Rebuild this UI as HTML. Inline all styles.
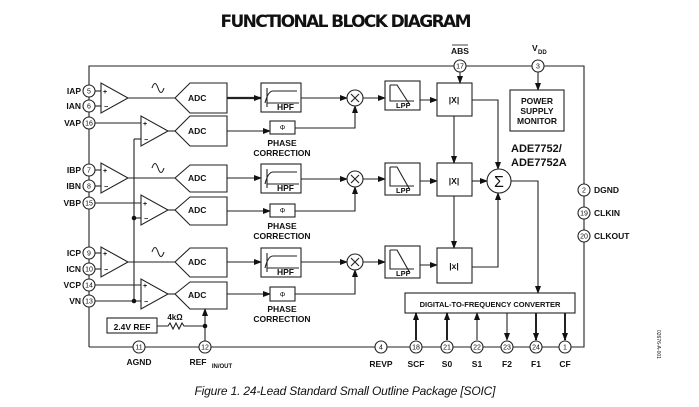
<!DOCTYPE html>
<html><head><meta charset="utf-8"><style>
html,body{margin:0;padding:0;background:#fff;}
svg{display:block}
text{font-family:"Liberation Sans",sans-serif;font-weight:bold;font-size:8.5px;fill:#111}
.n{font-size:7px;font-weight:normal}
.pm{font-size:7px;font-weight:bold}
</style></head><body>
<svg width="699" height="407" viewBox="0 0 699 407" xmlns="http://www.w3.org/2000/svg">
<defs><marker id="a" markerWidth="8" markerHeight="6" refX="7" refY="3" orient="auto" markerUnits="userSpaceOnUse"><path d="M0,0 L8,3 L0,6z" fill="#111"/></marker></defs>
<text x="346" y="27" text-anchor="middle" style="font-size:17px;font-family:'DejaVu Sans','Liberation Sans',sans-serif" textLength="251">FUNCTIONAL BLOCK DIAGRAM</text>
<text x="345" y="395" text-anchor="middle" style="font-size:12px;font-weight:normal;font-style:italic" textLength="301">Figure 1. 24-Lead Standard Small Outline Package [SOIC]</text>
<g stroke="#222" stroke-width="1.1" fill="none">
<path d="M89,347 V66 H584 V347 H89"/>
<path d="M134,139 V301"/>
</g>
<g stroke="#222" stroke-width="1.1" fill="#fff">
<line x1="95" y1="91" x2="101" y2="91"/><line x1="95" y1="106" x2="101" y2="106"/>
<line x1="95" y1="123" x2="141" y2="123"/><line x1="134" y1="139" x2="141" y2="139"/>
<polygon points="101,83 101,113 128,98"/><line x1="128" y1="98" x2="175" y2="98"/>
<polygon points="141,116 141,146 168,131"/><line x1="168" y1="131" x2="175" y2="131"/>
<polygon points="175,98 190,83 227,83 227,113 190,113"/>
<polygon points="175,131 190,116 227,116 227,146 190,146"/>
<line x1="227" y1="98" x2="261" y2="98" stroke-width="2.2" marker-end="url(#a)"/>
<rect x="261" y="83" width="40" height="29"/>
<line x1="227" y1="131" x2="270" y2="131" marker-end="url(#a)"/>
<rect x="270" y="121" width="25" height="13"/>
<line x1="301" y1="98" x2="347" y2="98" marker-end="url(#a)"/>
<path d="M295,128 H355 V106" fill="none" marker-end="url(#a)"/>
<circle cx="355" cy="98" r="8"/>
<line x1="363" y1="98" x2="385" y2="98" marker-end="url(#a)"/>
<rect x="385" y="81" width="35" height="29"/>
<line x1="420" y1="100" x2="437" y2="100" marker-end="url(#a)"/>
<rect x="437" y="83" width="35" height="33"/>
<line x1="95" y1="170" x2="101" y2="170"/><line x1="95" y1="186" x2="101" y2="186"/>
<line x1="95" y1="203" x2="141" y2="203"/><line x1="134" y1="218" x2="141" y2="218"/>
<polygon points="101,163 101,193 128,178"/><line x1="128" y1="178" x2="175" y2="178"/>
<polygon points="141,195 141,225 168,210"/><line x1="168" y1="210" x2="175" y2="210"/>
<polygon points="175,178 190,165 227,165 227,192 190,192"/>
<polygon points="175,210 190,197 227,197 227,225 190,225"/>
<line x1="227" y1="178" x2="261" y2="178" marker-end="url(#a)"/>
<rect x="261" y="164" width="40" height="29"/>
<line x1="227" y1="211" x2="270" y2="211" marker-end="url(#a)"/>
<rect x="270" y="204" width="25" height="13"/>
<line x1="301" y1="179" x2="347" y2="179" marker-end="url(#a)"/>
<path d="M295,211 H355 V187" fill="none" marker-end="url(#a)"/>
<circle cx="355" cy="179" r="8"/>
<line x1="363" y1="179" x2="385" y2="179" marker-end="url(#a)"/>
<rect x="385" y="163" width="35" height="32"/>
<line x1="420" y1="181" x2="437" y2="181" marker-end="url(#a)"/>
<rect x="437" y="163" width="35" height="33"/>
<line x1="95" y1="253" x2="101" y2="253"/><line x1="95" y1="269" x2="101" y2="269"/>
<line x1="95" y1="285" x2="141" y2="285"/><line x1="95" y1="301" x2="141" y2="301"/>
<polygon points="101,247 101,277 128,262"/><line x1="128" y1="262" x2="175" y2="262"/>
<polygon points="141,279 141,309 168,294"/><line x1="168" y1="294" x2="175" y2="294"/>
<polygon points="175,262 190,248 227,248 227,277 190,277"/>
<polygon points="175,294 190,282 227,282 227,309 190,309"/>
<line x1="227" y1="262" x2="261" y2="262" marker-end="url(#a)"/>
<rect x="261" y="248" width="40" height="29"/>
<line x1="227" y1="294" x2="270" y2="294" marker-end="url(#a)"/>
<rect x="270" y="287" width="25" height="14"/>
<line x1="301" y1="262" x2="347" y2="262" marker-end="url(#a)"/>
<path d="M295,294 H355 V270" fill="none" marker-end="url(#a)"/>
<circle cx="355" cy="262" r="8"/>
<line x1="363" y1="262" x2="385" y2="262" marker-end="url(#a)"/>
<rect x="385" y="246" width="35" height="32"/>
<line x1="420" y1="265" x2="437" y2="265" marker-end="url(#a)"/>
<rect x="437" y="248" width="35" height="35"/>
<line x1="454" y1="116" x2="454" y2="163" marker-end="url(#a)"/>
<line x1="454" y1="196" x2="454" y2="248" marker-end="url(#a)"/>
<path d="M472,100 H498 V169" fill="none" marker-end="url(#a)"/>
<path d="M472,267 H498 V193" fill="none" marker-end="url(#a)"/>
<line x1="472" y1="181" x2="487" y2="181" marker-end="url(#a)"/>
<circle cx="499" cy="181" r="12"/>
<path d="M511,181 H538 V293" fill="none" marker-end="url(#a)"/>
<line x1="460" y1="72" x2="460" y2="83" marker-end="url(#a)"/>
<line x1="538" y1="72" x2="538" y2="90" marker-end="url(#a)"/>
<rect x="510" y="90" width="54" height="41"/>
<rect x="405" y="293" width="170" height="20"/>
<line x1="416" y1="340" x2="416" y2="313" stroke-width="2" marker-end="url(#a)"/>
<line x1="447" y1="340" x2="447" y2="313" stroke-width="2" marker-end="url(#a)"/>
<line x1="477" y1="340" x2="477" y2="313" marker-end="url(#a)"/>
<line x1="507" y1="313" x2="507" y2="340" marker-end="url(#a)"/>
<line x1="536" y1="313" x2="536" y2="340" stroke-width="2" marker-end="url(#a)"/>
<line x1="565" y1="313" x2="565" y2="340" stroke-width="2" marker-end="url(#a)"/>
<rect x="107" y="318" width="50" height="15"/>
<path d="M157,326 H168 l2,-3 l3,6 l3,-6 l3,6 l3,-6 l2,3 H205" fill="none"/>
<line x1="205" y1="341" x2="205" y2="309" marker-end="url(#a)"/>
</g>
<g fill="#111"><circle cx="205" cy="326" r="2.3"/><circle cx="134" cy="218" r="2.3"/><circle cx="134" cy="301" r="2.3"/></g>
<g stroke="#222" stroke-width="1.1" fill="none">
<path d="M152,88 q3,-9 6,0 t6,0"/><path d="M152,168 q3,-9 6,0 t6,0"/><path d="M152,252 q3,-9 6,0 t6,0"/>
<path d="M267,107 V88 M265,103 q3,-12 8,-12 H297 M267,103 H299"/>
<path d="M267,188 V169 M265,184 q3,-12 8,-12 H297 M267,184 H299"/>
<path d="M267,272 V253 M265,268 q3,-12 8,-12 H297 M267,268 H299"/>
<path d="M390,85 V101 H414 M390,85 H397 L410,105"/>
<path d="M390,167 V186 H414 M390,167 H397 L410,190"/>
<path d="M390,250 V269 H414 M390,250 H397 L410,273"/>
<path d="M351,94 l8,8 M359,94 l-8,8 M351,175 l8,8 M359,175 l-8,8 M351,258 l8,8 M359,258 l-8,8"/>
</g>
<g class="pm">
<text class="pm" x="103" y="94">+</text><text class="pm" x="104" y="109">−</text>
<text class="pm" x="143" y="126">+</text><text class="pm" x="144" y="142">−</text>
<text class="pm" x="103" y="173">+</text><text class="pm" x="104" y="189">−</text>
<text class="pm" x="143" y="206">+</text><text class="pm" x="144" y="221">−</text>
<text class="pm" x="103" y="256">+</text><text class="pm" x="104" y="272">−</text>
<text class="pm" x="143" y="288">+</text><text class="pm" x="144" y="304">−</text>
</g>
<g>
<text x="188" y="101">ADC</text><text x="188" y="134">ADC</text>
<text x="188" y="181">ADC</text><text x="188" y="213">ADC</text>
<text x="188" y="265">ADC</text><text x="188" y="298">ADC</text>
<text x="277" y="110">HPF</text><text x="277" y="191">HPF</text><text x="277" y="275">HPF</text>
<text x="396" y="108" style="font-size:7.5px">LPF</text><text x="396" y="193" style="font-size:7.5px">LPF</text><text x="396" y="276" style="font-size:7.5px">LPF</text>
<text x="454" y="103" text-anchor="middle">|X|</text><text x="454" y="184" text-anchor="middle">|X|</text><text x="454" y="269" text-anchor="middle">|x|</text>
<text x="282.5" y="130" text-anchor="middle" class="n">Φ</text><text x="282.5" y="213" text-anchor="middle" class="n">Φ</text><text x="282.5" y="297" text-anchor="middle" class="n">Φ</text>
<text x="282" y="146" text-anchor="middle">PHASE</text><text x="282" y="156" text-anchor="middle">CORRECTION</text>
<text x="282" y="229" text-anchor="middle">PHASE</text><text x="282" y="239" text-anchor="middle">CORRECTION</text>
<text x="282" y="312" text-anchor="middle">PHASE</text><text x="282" y="322" text-anchor="middle">CORRECTION</text>
<text x="499" y="187" text-anchor="middle" style="font-size:16px;font-weight:normal">Σ</text>
<text x="537" y="104" text-anchor="middle">POWER</text><text x="537" y="114" text-anchor="middle">SUPPLY</text><text x="537" y="124" text-anchor="middle">MONITOR</text>
<text x="511" y="152" style="font-size:11px">ADE7752/</text><text x="511" y="166" style="font-size:11px">ADE7752A</text>
<text x="490" y="307" text-anchor="middle" style="font-size:7.5px">DIGITAL-TO-FREQUENCY CONVERTER</text>
<text x="132" y="330" text-anchor="middle">2.4V REF</text>
<text x="175" y="320" text-anchor="middle" style="font-size:8px">4kΩ</text>
<text x="460" y="54" text-anchor="middle">ABS</text><line x1="452" y1="45" x2="468" y2="45" stroke="#111" stroke-width="0.8"/>
<text x="532" y="51">V</text><text x="538" y="54" style="font-size:6px">DD</text>
<g text-anchor="end">
<text x="81" y="94">IAP</text><text x="81" y="109">IAN</text><text x="81" y="126">VAP</text>
<text x="81" y="173">IBP</text><text x="81" y="189">IBN</text><text x="81" y="206">VBP</text>
<text x="81" y="256">ICP</text><text x="81" y="272">ICN</text><text x="81" y="288">VCP</text><text x="81" y="304">VN</text>
</g>
<text x="594" y="193">DGND</text><text x="594" y="216">CLKIN</text><text x="594" y="239">CLKOUT</text>
<g text-anchor="middle">
<text x="139" y="365">AGND</text><text x="198" y="365">REF</text><text x="222" y="368" style="font-size:6px">IN/OUT</text>
<text x="381" y="367">REVP</text><text x="416" y="367">SCF</text><text x="447" y="367">S0</text><text x="477" y="367">S1</text>
<text x="507" y="367">F2</text><text x="536" y="367">F1</text><text x="565" y="367">CF</text>
</g>
<text x="0" y="0" transform="translate(657,330) rotate(90)" style="font-size:5px;font-weight:normal">02676-A-001</text>
</g>
<g stroke="#222" stroke-width="1.1" fill="#fff">
<circle cx="89" cy="91" r="6"/><circle cx="89" cy="106" r="6"/><circle cx="89" cy="123" r="6"/>
<circle cx="89" cy="170" r="6"/><circle cx="89" cy="186" r="6"/><circle cx="89" cy="203" r="6"/>
<circle cx="89" cy="253" r="6"/><circle cx="89" cy="269" r="6"/><circle cx="89" cy="285" r="6"/><circle cx="89" cy="301" r="6"/>
<circle cx="460" cy="66" r="6"/><circle cx="538" cy="66" r="6"/>
<circle cx="584" cy="190" r="6"/><circle cx="584" cy="213" r="6"/><circle cx="584" cy="236" r="6"/>
<circle cx="139" cy="347" r="6"/><circle cx="205" cy="347" r="6"/><circle cx="381" cy="347" r="6"/>
<circle cx="416" cy="347" r="6"/><circle cx="447" cy="347" r="6"/><circle cx="477" cy="347" r="6"/>
<circle cx="507" cy="347" r="6"/><circle cx="536" cy="347" r="6"/><circle cx="565" cy="347" r="6"/>
</g>
<g text-anchor="middle">
<text class="n" x="89" y="93.5">5</text><text class="n" x="89" y="108.5">6</text><text class="n" x="89" y="125.5">16</text>
<text class="n" x="89" y="172.5">7</text><text class="n" x="89" y="188.5">8</text><text class="n" x="89" y="205.5">15</text>
<text class="n" x="89" y="255.5">9</text><text class="n" x="89" y="271.5">10</text><text class="n" x="89" y="287.5">14</text><text class="n" x="89" y="303.5">13</text>
<text class="n" x="460" y="68.5">17</text><text class="n" x="538" y="68.5">3</text>
<text class="n" x="584" y="192.5">2</text><text class="n" x="584" y="215.5">19</text><text class="n" x="584" y="238.5">20</text>
<text class="n" x="139" y="349.5">11</text><text class="n" x="205" y="349.5">12</text><text class="n" x="381" y="349.5">4</text>
<text class="n" x="416" y="349.5">18</text><text class="n" x="447" y="349.5">21</text><text class="n" x="477" y="349.5">22</text>
<text class="n" x="507" y="349.5">23</text><text class="n" x="536" y="349.5">24</text><text class="n" x="565" y="349.5">1</text>
</g>
</svg>
</body></html>
